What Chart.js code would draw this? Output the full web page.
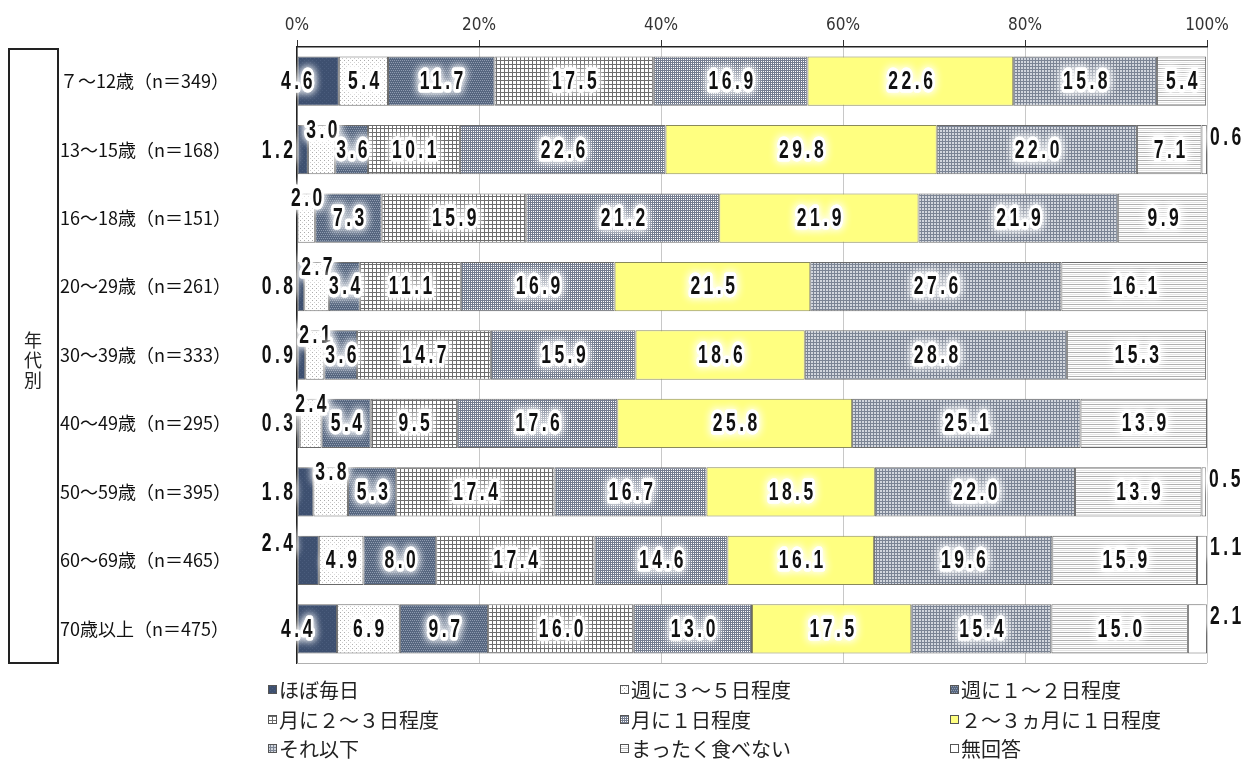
<!DOCTYPE html>
<html>
<head>
<meta charset="utf-8">
<script src="https://cdn.jsdelivr.net/npm/chart.js@4.4.1/dist/chart.umd.min.js"></script>
<style>
html, body { margin: 0; padding: 0; background: #fff; }
</style>
</head>
<body>
<canvas id="grafica" width="1243" height="762"></canvas>
<script>
// categorias (年代別)
var categorias = [
    "７～12歳（n＝349）", "13～15歳（n＝168）", "16～18歳（n＝151）",
    "20～29歳（n＝261）", "30～39歳（n＝333）", "40～49歳（n＝295）",
    "50～59歳（n＝395）", "60～69歳（n＝465）", "70歳以上（n＝475）"
];
var nombresSeries = [
    "ほぼ毎日", "週に３～５日程度", "週に１～２日程度",
    "月に２～３日程度", "月に１日程度", "２～３ヵ月に１日程度",
    "それ以下", "まったく食べない", "無回答"
];
// valores (%)
var hoboMainichi = [4.6, 1.2, 0, 0.8, 0.9, 0.3, 1.8, 2.4, 4.4];
var shu35 = [5.4, 3.0, 2.0, 2.7, 2.1, 2.4, 3.8, 4.9, 6.9];
var shu12 = [11.7, 3.6, 7.3, 3.4, 3.6, 5.4, 5.3, 8.0, 9.7];
var tsuki23 = [17.5, 10.1, 15.9, 11.1, 14.7, 9.5, 17.4, 17.4, 16.0];
var tsuki1 = [16.9, 22.6, 21.2, 16.9, 15.9, 17.6, 16.7, 14.6, 13.0];
var kagetsu23 = [22.6, 29.8, 21.9, 21.5, 18.6, 25.8, 18.5, 16.1, 17.5];
var soreIka = [15.8, 22.0, 21.9, 27.6, 28.8, 25.1, 22.0, 19.6, 15.4];
var mattaku = [5.4, 7.1, 9.9, 16.1, 15.3, 13.9, 13.9, 15.9, 15.0];
var mukaito = [0, 0.6, 0, 0, 0, 0, 0.5, 1.1, 2.1];
var ticksX = [0, 20, 40, 60, 80, 100];

var fuenteNum = '"Liberation Sans", Arial, sans-serif';
var fuenteEje = '"DejaVu Sans Condensed", sans-serif';
var fuenteJp = '"Noto Sans CJK JP", sans-serif';

// tramas de relleno
function patron(tipo) {
    var c = document.createElement('canvas');
    var g = c.getContext('2d');
    var n = 4;
    c.width = n; c.height = n;
    if (tipo === 0) {
        g.fillStyle = '#3e5070'; g.fillRect(0, 0, n, n);
        g.fillStyle = '#4a5c7c'; g.fillRect(0, 0, 1, 1); g.fillRect(2, 2, 1, 1);
    } else if (tipo === 1) {
        g.fillStyle = '#fff'; g.fillRect(0, 0, n, n);
        g.fillStyle = '#aaa'; g.fillRect(0, 0, 1, 1);
        g.fillStyle = '#ccc'; g.fillRect(2, 2, 1, 1);
    } else if (tipo === 2) {
        g.fillStyle = '#56667f'; g.fillRect(0, 0, n, n);
        g.fillStyle = '#8e9bb0';
        g.fillRect(0, 0, 1, 1); g.fillRect(2, 0, 1, 1); g.fillRect(1, 2, 1, 1); g.fillRect(3, 2, 1, 1);
    } else if (tipo === 3) {
        g.fillStyle = '#fff'; g.fillRect(0, 0, n, n);
        g.fillStyle = '#6e6e6e'; g.fillRect(0, 0, n, 1); g.fillRect(0, 0, 1, n);
    } else if (tipo === 4) {
        g.fillStyle = '#737c8f'; g.fillRect(0, 0, n, n);
        g.fillStyle = '#fff';
        g.fillRect(1, 1, 1, 1); g.fillRect(3, 3, 1, 1); g.fillRect(1, 3, 1, 1); g.fillRect(3, 1, 1, 1);
    } else if (tipo === 5) {
        g.fillStyle = '#ffff80'; g.fillRect(0, 0, n, n);
    } else if (tipo === 6) {
        c.width = 3; c.height = 3;
        g.fillStyle = '#d2d6dd'; g.fillRect(0, 0, 3, 3);
        g.fillStyle = '#7b8494'; g.fillRect(0, 0, 3, 1); g.fillRect(0, 0, 1, 3);
    } else if (tipo === 7) {
        g.fillStyle = '#fff'; g.fillRect(0, 0, n, n);
        g.fillStyle = '#b0b0b0'; g.fillRect(0, 0, n, 1);
        g.fillStyle = '#e4e4e4'; g.fillRect(0, 2, n, 1);
    } else {
        g.fillStyle = '#fff'; g.fillRect(0, 0, n, n);
    }
    return g.createPattern(c, 'repeat');
}

var valores = [hoboMainichi, shu35, shu12, tsuki23, tsuki1, kagetsu23, soreIka, mattaku, mukaito];
var datasets = valores.map(function (datos, i) {
    return {
        label: nombresSeries[i],
        data: datos,
        backgroundColor: patron(i),
        borderColor: i === 5 ? '#8a8a5a' : '#6a6a6a',
        borderWidth: 1,
        borderSkipped: false,
        barPercentage: 0.72,
        categoryPercentage: 1
    };
});

// numero con halo blanco, comprimido en horizontal
function texto(ctx, t, x, y, al) {
    ctx.save();
    ctx.translate(x, y);
    ctx.scale(0.7, 1);
    ctx.textAlign = al;
    ctx.textBaseline = 'middle';
    ctx.shadowColor = '#fff';
    ctx.shadowBlur = 8;
    ctx.lineJoin = 'round';
    ctx.lineWidth = 7;
    ctx.strokeStyle = 'rgba(255,255,255,0.95)';
    ctx.strokeText(t, 0, 0);
    ctx.strokeText(t, 0, 0);
    ctx.shadowBlur = 0;
    ctx.fillStyle = '#111';
    ctx.fillText(t, 0, 0);
    ctx.restore();
}

var etiquetas = {
    id: 'etiquetas',
    afterDatasetsDraw: function (chart) {
        var ctx = chart.ctx;
        ctx.save();
        ctx.font = 'bold 25px ' + fuenteNum;
        ctx.letterSpacing = '5px';
        chart.data.datasets.forEach(function (ds, i) {
            var meta = chart.getDatasetMeta(i);
            meta.data.forEach(function (bar, j) {
                var v = ds.data[j];
                if (!v) return;
                var x = (bar.base + bar.x) / 2, y = bar.y + 1, al = 'center';
                var mitad = bar.height / 2;
                if (i === 0) {
                    if (v >= 4) {
                        x = bar.base + 1;
                    } else {
                        x = bar.base - 1; al = 'right';
                        if (v >= 2) y = bar.y - mitad + 8;
                    }
                } else if (i === 1 && v < 4) {
                    x += 2;
                    y = bar.y - mitad + 6;
                } else if (i === 8) {
                    x = bar.x + 3; al = 'left';
                    y = bar.y - 12;
                } else {
                    x += 2;
                }
                texto(ctx, v.toFixed(1), x, y, al);
            });
        });
        ctx.restore();
    }
};

var extras = {
    id: 'extras',
    afterDraw: function (chart) {
        var ctx = chart.ctx;
        var area = chart.chartArea;
        ctx.save();
        // linea inferior
        ctx.strokeStyle = '#b0b0b0';
        ctx.lineWidth = 1;
        ctx.beginPath();
        ctx.moveTo(area.left, area.bottom + 0.5);
        ctx.lineTo(area.right, area.bottom + 0.5);
        ctx.stroke();
        // recuadro 年代別
        ctx.strokeStyle = '#222';
        ctx.lineWidth = 2;
        ctx.strokeRect(9, 49, 49, 614);
        ctx.fillStyle = '#222';
        ctx.font = '18px ' + fuenteJp;
        ctx.textAlign = 'center';
        ctx.textBaseline = 'middle';
        ['年', '代', '別'].forEach(function (ch, k) {
            ctx.fillText(ch, 33, 340 + k * 20);
        });
        // leyenda
        var cols = [268, 620, 950];
        var filas = [690, 720, 749];
        ctx.font = '20px ' + fuenteJp;
        ctx.textAlign = 'left';
        chart.data.datasets.forEach(function (ds, i) {
            var x = cols[i % 3], y = filas[Math.floor(i / 3)];
            ctx.fillStyle = ds.backgroundColor;
            ctx.fillRect(x, y - 5, 9, 9);
            ctx.strokeStyle = '#555';
            ctx.lineWidth = 1;
            ctx.strokeRect(x + 0.5, y - 4.5, 8, 8);
            ctx.fillStyle = '#222';
            ctx.fillText(ds.label, x + 11, y);
        });
        ctx.restore();
    }
};

var ctx = document.getElementById('grafica').getContext('2d');
new Chart(ctx, {
    type: 'bar',
    data: { labels: categorias, datasets: datasets },
    options: {
        indexAxis: 'y',
        responsive: false,
        animation: false,
        devicePixelRatio: 1,
        layout: { padding: { left: 60, right: 36, top: 0, bottom: 99 } },
        plugins: {
            legend: { display: false },
            tooltip: { enabled: false }
        },
        scales: {
            x: {
                position: 'top',
                stacked: true,
                min: 0,
                max: 100,
                afterBuildTicks: function (s) {
                    s.ticks = ticksX.map(function (v) { return { value: v }; });
                },
                afterFit: function (s) { s.height = 47; },
                ticks: {
                    callback: function (v) { return v + '%'; },
                    color: '#333',
                    font: { family: fuenteEje, size: 17 },
                    padding: 4
                },
                grid: { color: '#c8c8c8', tickLength: 7, tickColor: '#333' },
                border: { color: '#222', width: 1.5 }
            },
            y: {
                stacked: true,
                afterFit: function (s) { s.width = 237; },
                ticks: {
                    crossAlign: 'far',
                    color: '#111',
                    font: { family: fuenteJp, size: 18 }
                },
                grid: { display: false },
                border: { color: '#222', width: 1.5 }
            }
        }
    },
    plugins: [etiquetas, extras]
});
</script>
</body>
</html>
